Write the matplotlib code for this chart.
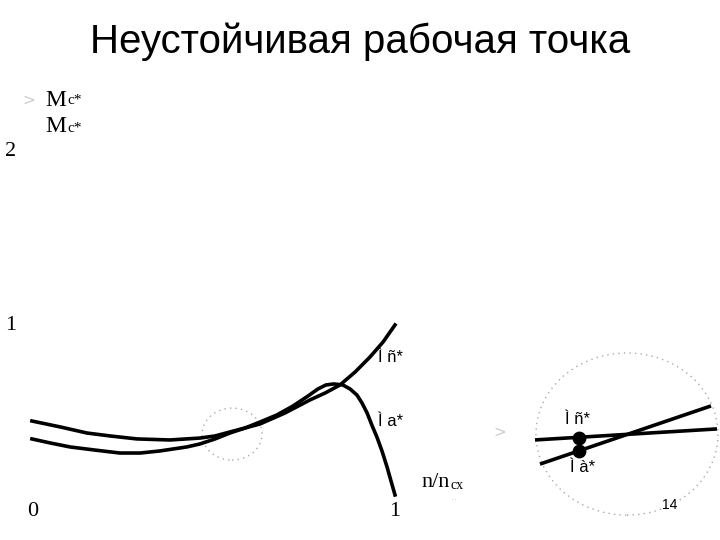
import matplotlib.pyplot as plt
from matplotlib.patches import Ellipse

# Main curves: speed n/ncx versus torque M* (relative units)
n_motor = [-0.003, 0.047, 0.102, 0.171, 0.240, 0.296, 0.351, 0.425, 0.461, 0.503,
           0.544, 0.586, 0.627, 0.674, 0.718, 0.760, 0.787, 0.809, 0.831, 0.856,
           0.876, 0.895, 0.909, 0.923, 0.936, 0.950, 0.964, 0.978, 0.989, 1.000]
m_motor = [0.351, 0.328, 0.305, 0.287, 0.270, 0.270, 0.282, 0.305, 0.322, 0.351,
           0.385, 0.414, 0.448, 0.489, 0.540, 0.598, 0.638, 0.661, 0.667, 0.661,
           0.638, 0.603, 0.557, 0.500, 0.431, 0.362, 0.282, 0.190, 0.109, 0.029]

n_load = [-0.003, 0.075, 0.149, 0.213, 0.287, 0.378, 0.461, 0.503, 0.544, 0.586,
          0.627, 0.696, 0.765, 0.807, 0.848, 0.890, 0.931, 0.967, 1.000]
m_load = [0.454, 0.420, 0.385, 0.368, 0.351, 0.345, 0.356, 0.368, 0.391, 0.414,
          0.437, 0.500, 0.575, 0.615, 0.661, 0.736, 0.822, 0.908, 1.006]

# Magnified view of the lower crossing point (local units)
zoom_load_u = [0.075, 0.985]
zoom_load_v = [0.474, 0.532]
zoom_motor_u = [0.100, 0.955]
zoom_motor_v = [0.347, 0.653]
zoom_pts_u = [0.295, 0.295]
zoom_pts_v = [0.484, 0.416]

y_ticks = [1, 2]
x_ticks = [0, 1]

fig = plt.figure(figsize=(7.2, 5.4), dpi=100)
ax = fig.add_axes([0, 0, 1, 1])
# pixel 33 -> n=0, 362 px per unit; pixel 500 -> M=0, 174 px per unit
ax.set_xlim(-33 / 362, (720 - 33) / 362)
ax.set_ylim((500 - 540) / 174, 500 / 174)
ax.axis("off")

ax.plot(n_load, m_load, color="black", lw=2.6, solid_joinstyle="round")
ax.plot(n_motor, m_motor, color="black", lw=2.6, solid_joinstyle="round")

# small dotted circle round the crossing
ax.add_patch(Ellipse((0.55, 0.379), 60 / 362, 52 / 174, fill=False,
                     ec="#aaaaaa", lw=1, ls=(0, (1, 3))))

serif = "Liberation Serif"
sans = "Liberation Sans"

fig.text(0.5, 1 - 42 / 540, "Неустойчивая рабочая точка", ha="center", va="center",
         fontsize=29, family=sans)

# axis labels
for t in y_ticks:
    ax.text(-22 / 362, t, str(t), ha="center", va="center", fontsize=16, family=serif)
for t in x_ticks:
    ax.text(t, -12 / 174, str(t), ha="center", va="center", fontsize=16, family=serif)

ax.text(1.074, 0.10, "n/n", ha="left", va="center", fontsize=16, family=serif)
ax.text(1.152, 0.085, "cx", ha="left", va="center", fontsize=10, family=serif)
ax.text(1.155, 0.02, "..", ha="left", va="center", fontsize=7, color="#cccccc")

# legend-like labels top left
for yy in [100, 127]:
    ax.text(12 / 362, (500 - yy) / 174, "M", ha="left", va="center",
            fontsize=17, family=serif)
    ax.text(34 / 362, (500 - yy - 1) / 174, "c*", ha="left", va="center",
            fontsize=11, family=serif)
ax.text(-4 / 362, (500 - 100) / 174, ">", ha="center", va="center",
        fontsize=11, color="#cccccc")

# curve labels
ax.text(345 / 362, (500 - 357) / 174, "Ì ñ*", ha="left", va="center",
        fontsize=12, family=sans)
ax.text(345 / 362, (500 - 422) / 174, "Ì a*", ha="left", va="center",
        fontsize=12, family=sans)

ax.text(467 / 362, (500 - 432) / 174, ">", ha="center", va="center",
        fontsize=11, color="#cccccc")

# magnified inset
ins = fig.add_axes([520 / 720, 10 / 540, 200 / 720, 190 / 540])
ins.set_xlim(0, 1)
ins.set_ylim(0, 1)
ins.axis("off")
ins.add_patch(Ellipse((0.535, 0.505), 0.91, 0.853, fill=False,
                      ec="#aaaaaa", lw=1, ls=(0, (1, 3))))
ins.plot(zoom_load_u, zoom_load_v, color="black", lw=2.6, solid_capstyle="butt")
ins.plot(zoom_motor_u, zoom_motor_v, color="black", lw=2.6, solid_capstyle="butt")
ins.scatter(zoom_pts_u, zoom_pts_v, s=80, color="black", zorder=3)
ins.text(0.225, 0.58, "Ì ñ*", ha="left", va="center", fontsize=12, family=sans)
ins.text(0.25, 0.33, "Ì à*", ha="left", va="center", fontsize=12, family=sans)
ins.text(0.71, 0.13, "14", ha="left", va="center", fontsize=10, family=sans)

fig.savefig("out.png", dpi=100)
